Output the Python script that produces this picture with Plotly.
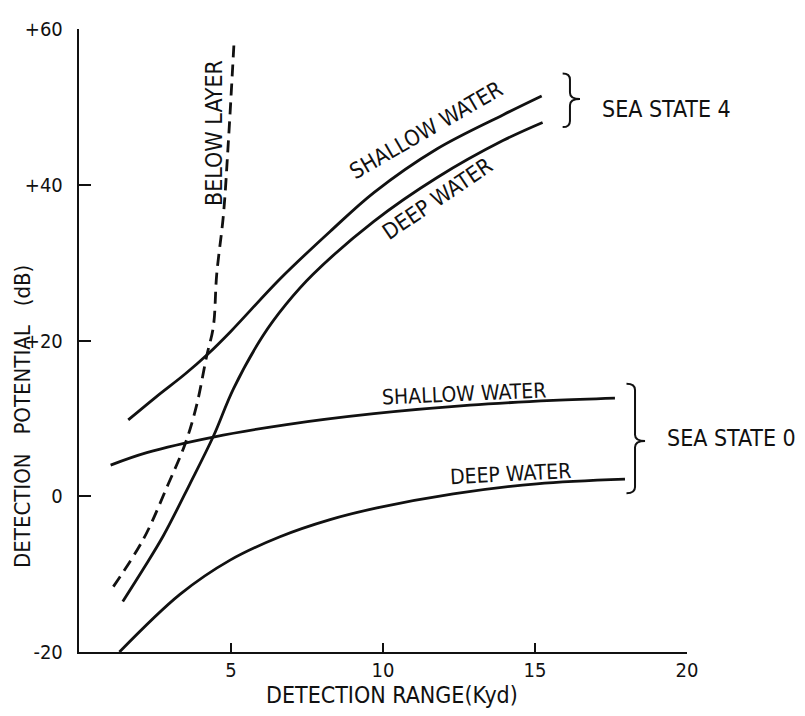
import plotly.graph_objects as go

INK = "#111111"
FONT = "DejaVu Sans Condensed, DejaVu Sans, sans-serif"

# sea state 4
ss4_shallow_x = [1.62, 2.55, 3.49, 4.25, 5.0, 6.61, 8.26, 9.7, 11.77, 13.96, 15.22]
ss4_shallow_y = [9.8, 12.8, 15.7, 18.3, 21.2, 27.9, 34.0, 39.0, 44.6, 49.0, 51.4]
ss4_deep_x = [1.44, 2.12, 2.77, 3.65, 4.42, 5.08, 6.05, 6.8, 7.7, 9.7, 11.77, 13.96, 15.25]
ss4_deep_y = [-13.5, -9.3, -5.1, 1.6, 7.7, 13.8, 20.6, 24.6, 28.5, 35.3, 40.9, 45.7, 48.0]

# sea state 0
ss0_shallow_x = [1.04, 2.23, 4.42, 6.83, 9.7, 12.86, 15.6, 17.63]
ss0_shallow_y = [4.0, 5.6, 7.6, 9.2, 10.6, 11.7, 12.3, 12.6]
ss0_deep_x = [1.33, 3.32, 4.97, 6.61, 8.26, 9.8, 12.31, 15.06, 17.96]
ss0_deep_y = [-20.0, -12.6, -8.2, -5.2, -3.0, -1.5, 0.3, 1.6, 2.2]

# below layer (dashed)
below_x = [1.13, 2.12, 2.94, 3.49, 3.87, 4.2, 4.42, 4.53, 4.75, 4.91, 5.1]
below_y = [-11.6, -5.5, 1.6, 6.7, 11.7, 18.0, 21.8, 28.5, 36.1, 45.3, 58.3]

x_ticks = [5, 10, 15, 20]
y_ticks = [-20, 0, 20, 40, 60]
y_ticktext = ["-20", "0", "+20", "+40", "+60"]


def brace(x0, xm, x1, yt, ym, yb, h):
    # right-facing curly brace "}" as an svg path in data coords
    return (f"M {x0},{yt} Q {xm},{yt} {xm},{yt - h} L {xm},{ym + h} "
            f"Q {xm},{ym} {x1},{ym} Q {xm},{ym} {xm},{ym - h} "
            f"L {xm},{yb + h} Q {xm},{yb} {x0},{yb}")


fig = go.Figure()
for xs, ys in [(ss4_shallow_x, ss4_shallow_y), (ss4_deep_x, ss4_deep_y),
               (ss0_shallow_x, ss0_shallow_y), (ss0_deep_x, ss0_deep_y)]:
    fig.add_trace(go.Scatter(x=xs, y=ys, mode="lines", line=dict(color=INK, width=2.8, shape="spline"),
                             showlegend=False, hoverinfo="skip"))
fig.add_trace(go.Scatter(x=below_x, y=below_y, mode="lines",
                         line=dict(color=INK, width=2.8, shape="spline", dash="12px,7px"),
                         showlegend=False, hoverinfo="skip"))

fig.add_shape(type="path", path=brace(15.91, 16.15, 16.48, 54.3, 51.0, 47.4, 0.8),
              line=dict(color=INK, width=2))
fig.add_shape(type="path", path=brace(18.01, 18.29, 18.62, 14.45, 7.09, 0.38, 0.8),
              line=dict(color=INK, width=2))

labels = [
    ("SHALLOW WATER", 11.4, 47.0, -30, 22),
    ("DEEP WATER", 11.8, 38.2, -34, 22),
    ("SHALLOW WATER", 12.66, 13.1, -2.5, 21),
    ("DEEP WATER", 14.2, 2.8, -3, 21),
    ("BELOW LAYER", 4.42, 46.7, -90, 23),
]
for text, x, y, ang, size in labels:
    fig.add_annotation(x=x, y=y, text=text, textangle=ang, showarrow=False,
                       font=dict(family=FONT, size=size, color=INK))
fig.add_annotation(x=17.14, y=49.7, text="SEA STATE 4", xanchor="left", showarrow=False,
                   font=dict(family=FONT, size=23, color=INK))
fig.add_annotation(x=19.28, y=7.5, text="SEA STATE 0", xanchor="left", showarrow=False,
                   font=dict(family=FONT, size=23, color=INK))
fig.add_annotation(x=10.28, y=-0.069, yref="paper", text="DETECTION RANGE(Kyd)", showarrow=False,
                   xanchor="center", yanchor="middle", font=dict(family=FONT, size=23, color=INK))
fig.add_annotation(x=-0.092, xref="paper", y=10.2,
                   text="DETECTION\u00a0\u00a0 POTENTIAL\u00a0\u00a0 (dB)",
                   textangle=-90, xanchor="center", yanchor="middle", showarrow=False,
                   font=dict(family=FONT, size=22, color=INK))

# page body adds 8px, so margins are trimmed by that much on the left/top
fig.update_layout(
    width=805, height=716,
    paper_bgcolor="white", plot_bgcolor="white",
    margin=dict(l=71, r=126, t=9, b=72),
    font=dict(family=FONT, color=INK),
)
fig.update_xaxes(range=[0, 20], tickvals=x_ticks, showgrid=False, zeroline=False,
                 showline=True, linecolor=INK, linewidth=2.4,
                 ticks="inside", ticklen=9, tickwidth=2, tickcolor=INK,
                 ticklabelstandoff=-1, ticklabeloverflow="allow", tickfont=dict(size=20, color=INK))
fig.update_yaxes(range=[-20, 60], tickvals=y_ticks, ticktext=y_ticktext, showgrid=False, zeroline=False,
                 showline=True, linecolor=INK, linewidth=2.4,
                 ticks="inside", ticklen=12, tickwidth=2, tickcolor=INK,
                 ticklabelstandoff=10, ticklabeloverflow="allow", tickfont=dict(size=20, color=INK))

fig.write_html("out.html")
